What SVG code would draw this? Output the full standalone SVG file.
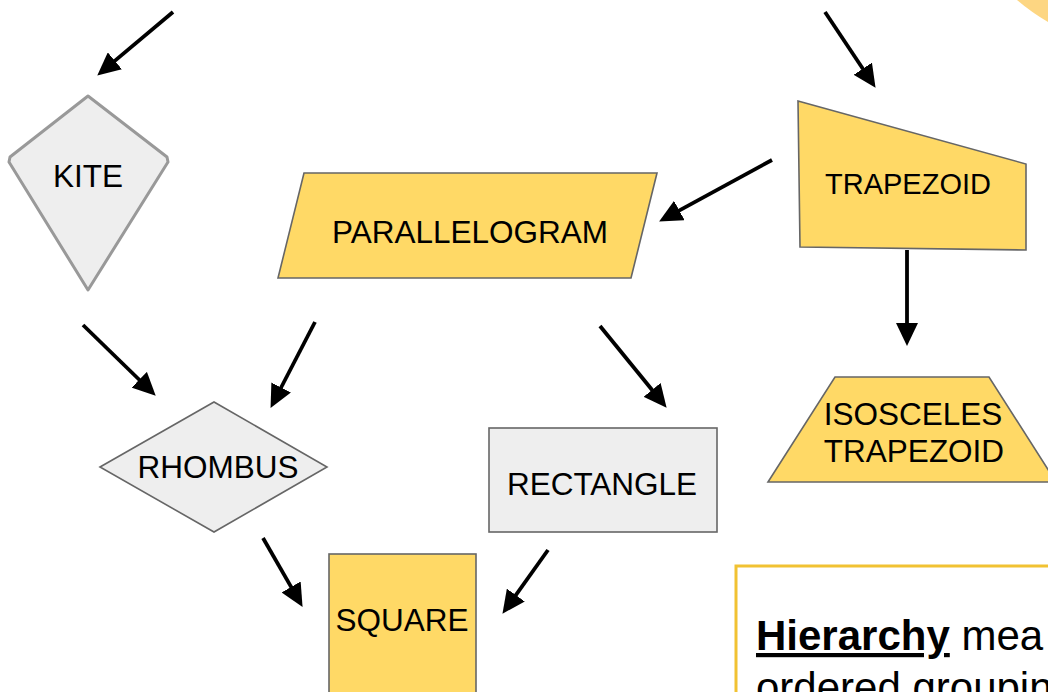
<svg xmlns="http://www.w3.org/2000/svg" width="1048" height="692" viewBox="0 0 1048 692">
  <style>
    .label { font-family: "Liberation Sans", Arial, sans-serif; font-size: 31.5px; fill: #000; text-anchor: middle; }
    .yellow { fill: #ffd966; stroke: #666666; stroke-width: 1.6; stroke-linejoin: miter; }
    .grey { fill: #eeeeee; stroke: #666666; stroke-width: 1.6; }
    .conn { stroke: #000; stroke-width: 3.8; fill: none; marker-end: url(#head); }
    .note { font-family: "Liberation Sans", Arial, sans-serif; font-size: 42px; fill: #000; }
  </style>
  <defs>
    <marker id="head" markerUnits="userSpaceOnUse" viewBox="0 0 23 22" refX="4" refY="11" markerWidth="23" markerHeight="22" orient="auto">
      <path d="M0,0 L23,11 L0,22 Z" fill="#000"/>
    </marker>
  </defs>

  <rect width="1048" height="692" fill="#ffffff"/>

  <!-- corner of a decorative disc -->
  <path d="M1017,0 Q1031,12 1048,22 L1048,0 Z" fill="#fdd682"/>

  <g id="kite">
    <polygon points="88,96 167,157 168,162 88,290 9,162 10,157" fill="#eeeeee" stroke="#999999" stroke-width="3" stroke-linejoin="round"/>
    <text class="label" x="88" y="187">KITE</text>
  </g>

  <g id="trapezoid">
    <polygon class="yellow" points="798,101 1026,164 1026,250 800,247"/>
    <text class="label" x="908" y="194" style="font-size:29px">TRAPEZOID</text>
  </g>

  <g id="parallelogram">
    <polygon class="yellow" points="304,173 657,173 631,278 278,278"/>
    <text class="label" x="470" y="243">PARALLELOGRAM</text>
  </g>

  <g id="rhombus">
    <polygon class="grey" points="100,467 214,402 327,467 214,532"/>
    <text class="label" x="218" y="478">RHOMBUS</text>
  </g>

  <g id="rectangle">
    <rect class="grey" x="489" y="428" width="228" height="104"/>
    <text class="label" x="602" y="495">RECTANGLE</text>
  </g>

  <g id="isosceles-trapezoid">
    <polygon class="yellow" points="835,377 989,377 1056,482 768,482"/>
    <text class="label" x="913" y="425">ISOSCELES</text>
    <text class="label" x="914" y="462">TRAPEZOID</text>
  </g>

  <g id="square">
    <rect class="yellow" x="329" y="554" width="147" height="150"/>
    <text class="label" x="402" y="631">SQUARE</text>
  </g>

  <g id="definition">
    <rect x="736" y="566" width="330" height="140" fill="#ffffff" stroke="#f1c232" stroke-width="3"/>
    <text class="note" x="756" y="650"><tspan font-weight="bold" text-decoration="underline">Hierarchy</tspan> mea</text>
    <text class="note" x="756" y="702">ordered groupin</text>
  </g>

  <g id="connectors">
    <line class="conn" x1="173" y1="12" x2="111.8" y2="63.4"/>
    <line class="conn" x1="825" y1="12" x2="865" y2="72"/>
    <line class="conn" x1="772" y1="160" x2="675.8" y2="212.4"/>
    <line class="conn" x1="907" y1="250" x2="907" y2="327"/>
    <line class="conn" x1="83" y1="325" x2="142.1" y2="382.5"/>
    <line class="conn" x1="315" y1="322" x2="279.3" y2="391"/>
    <line class="conn" x1="600" y1="326" x2="654.6" y2="393"/>
    <line class="conn" x1="263" y1="538" x2="293.1" y2="590.4"/>
    <line class="conn" x1="548" y1="550" x2="513.5" y2="598.3"/>
  </g>
</svg>
